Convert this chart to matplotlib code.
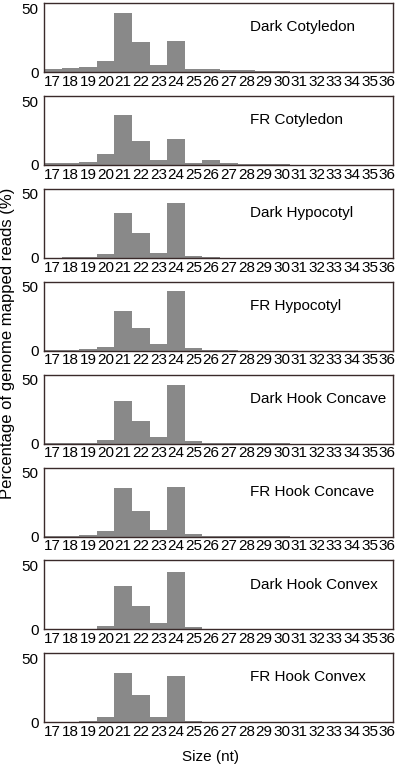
# small RNA size distribution, 8 stacked panels
import matplotlib.pyplot as plt

plt.rcParams.update({
    'font.family': ['Liberation Sans', 'DejaVu Sans'],
    'font.size': 11,
})

# ── data (percentage of genome mapped reads per read size) ────────────────────
sizes = list(range(17, 37))

dark_cotyledon = [2.3, 3.1, 3.9, 8.8, 46.5, 23.1, 5.5, 24.4, 2.6, 2.1, 1.8, 1.3, 0.8, 0.5,
                  0.2, 0.2, 0.1, 0.1, 0.1, 0.1]
fr_cotyledon   = [1.3, 1.8, 2.4, 8.4, 39.0, 18.4, 4.2, 20.0, 1.8, 3.9, 1.8, 1.0, 0.8, 0.5,
                  0.2, 0.2, 0.1, 0.1, 0.1, 0.1]
dark_hypocotyl = [0.2, 0.3, 0.7, 2.8, 35.0, 19.5, 3.7, 42.5, 1.2, 0.4, 0.2, 0.1, 0.1, 0.1,
                  0.0, 0.0, 0.0, 0.0, 0.0, 0.0]
fr_hypocotyl   = [0.2, 0.3, 1.0, 2.9, 30.8, 17.7, 5.0, 46.4, 2.1, 0.4, 0.2, 0.1, 0.1, 0.1,
                  0.0, 0.0, 0.0, 0.0, 0.0, 0.0]
dark_concave   = [0.2, 0.3, 0.8, 2.6, 33.0, 17.4, 5.2, 46.0, 1.8, 0.4, 0.2, 0.1, 0.1, 0.1,
                  0.0, 0.0, 0.0, 0.0, 0.0, 0.0]
fr_concave     = [0.2, 0.3, 0.8, 4.4, 37.8, 20.0, 5.0, 38.6, 1.6, 0.4, 0.2, 0.1, 0.1, 0.1,
                  0.0, 0.0, 0.0, 0.0, 0.0, 0.0]
dark_convex    = [0.2, 0.3, 0.5, 2.6, 34.0, 18.0, 4.7, 45.0, 1.6, 0.4, 0.2, 0.1, 0.1, 0.1,
                  0.0, 0.0, 0.0, 0.0, 0.0, 0.0]
fr_convex      = [0.2, 0.3, 0.8, 4.4, 38.6, 21.4, 3.9, 36.3, 1.3, 0.4, 0.2, 0.1, 0.1, 0.1,
                  0.0, 0.0, 0.0, 0.0, 0.0, 0.0]

names = ["Dark Cotyledon", "FR Cotyledon", "Dark Hypocotyl", "FR Hypocotyl",
         "Dark Hook Concave", "FR Hook Concave", "Dark Hook Convex", "FR Hook Convex"]
series = [dark_cotyledon, fr_cotyledon, dark_hypocotyl, fr_hypocotyl,
          dark_concave, fr_concave, dark_convex, fr_convex]

# ── layout in pixels ──────────────────────────────────────────────────────────
W, H = 397, 766
fig = plt.figure(figsize=(W / 100, H / 100), dpi=100)

left_px, width_px = 44, 349
panel_h = 69
first_bottom = 72
step = 92.9

for i, (name, vals) in enumerate(zip(names, series)):
    bottom_px = first_bottom + i * step
    ax = fig.add_axes([left_px / W, 1 - bottom_px / H, width_px / W, panel_h / H])
    ax.bar(sizes, vals, width=1.0, color='#898989', linewidth=0)
    ax.set_xlim(16.5, 16.5 + width_px / 17.6)
    ax.set_ylim(0, 54)
    ax.set_xticks(sizes)
    ax.set_xticklabels([str(s) for s in sizes],
                       family=['Liberation Sans Narrow', 'Liberation Sans'], fontsize=11)
    ax.set_yticks([0, 50])
    ax.tick_params(length=0, pad=2)
    ax.tick_params(axis='y', pad=4)
    for sp in ax.spines.values():
        sp.set_color('#3a2a2a')
        sp.set_linewidth(1.0)
    ax.text(0.59, 0.65, name, transform=ax.transAxes, va='center', ha='left')

fig.text(8 / W, 1 - 343 / H, "Percentage of genome mapped reads (%)",
         rotation=90, va='center', ha='center', fontsize=12)
fig.text(210 / W, 1 - 757 / H, "Size (nt)", va='center', ha='center')

fig.savefig("out.png", dpi=100)
